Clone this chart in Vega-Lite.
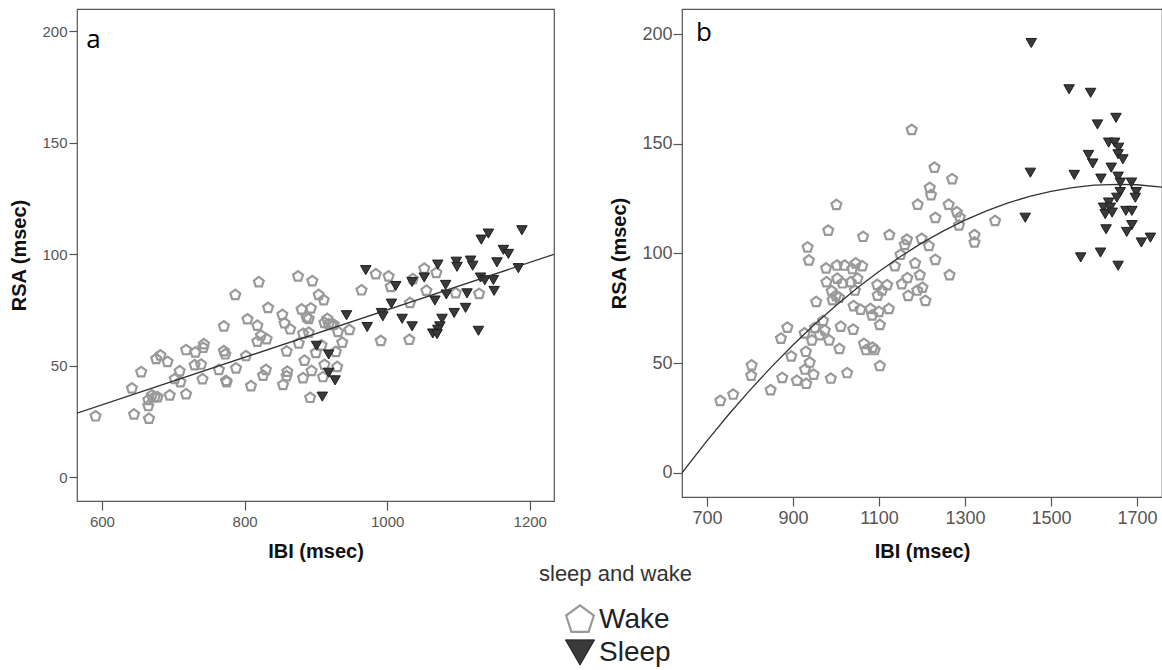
{
"$schema":"https://vega.github.io/schema/vega-lite/v6.json",
"padding":{"left":9,"top":8,"right":0,"bottom":0},
"spacing":54,
"config":{"view":{"stroke":"#555555","strokeWidth":1.2},"font":"Liberation Sans",
"axis":{"grid":false,"domain":false,"tickColor":"#555555","tickWidth":1.2,"labelColor":"#555555","labelFont":"Liberation Sans","titleFont":"Liberation Sans","titleFontWeight":"bold","titleFontSize":20,"titleColor":"#111111","format":"d"}},
"datasets":{
"a":[
{"IBI":591,"RSA":27.4,"state":"Wake"},{"IBI":642,"RSA":39.9,"state":"Wake"},{"IBI":645,"RSA":28.2,"state":"Wake"},{"IBI":655,"RSA":47.2,"state":"Wake"},{"IBI":665,"RSA":34.7,"state":"Wake"},{"IBI":665,"RSA":32,"state":"Wake"},{"IBI":666,"RSA":26.3,"state":"Wake"},{"IBI":670,"RSA":36.8,"state":"Wake"},{"IBI":674,"RSA":36,"state":"Wake"},{"IBI":676,"RSA":53.1,"state":"Wake"},{"IBI":678,"RSA":36,"state":"Wake"},{"IBI":682,"RSA":54.7,"state":"Wake"},{"IBI":692,"RSA":51.8,"state":"Wake"},{"IBI":695,"RSA":36.8,"state":"Wake"},{"IBI":702,"RSA":44.1,"state":"Wake"},{"IBI":709,"RSA":47.6,"state":"Wake"},{"IBI":710,"RSA":42.7,"state":"Wake"},{"IBI":718,"RSA":57.1,"state":"Wake"},{"IBI":718,"RSA":37.3,"state":"Wake"},{"IBI":731,"RSA":56,"state":"Wake"},{"IBI":730,"RSA":50.3,"state":"Wake"},{"IBI":739,"RSA":50.6,"state":"Wake"},{"IBI":742,"RSA":58.1,"state":"Wake"},{"IBI":743,"RSA":59.7,"state":"Wake"},{"IBI":741,"RSA":44,"state":"Wake"},{"IBI":764,"RSA":48.2,"state":"Wake"},{"IBI":771,"RSA":67.7,"state":"Wake"},{"IBI":771,"RSA":56.6,"state":"Wake"},{"IBI":773,"RSA":55.2,"state":"Wake"},{"IBI":774,"RSA":43.3,"state":"Wake"},{"IBI":775,"RSA":42.7,"state":"Wake"},{"IBI":787,"RSA":81.8,"state":"Wake"},{"IBI":788,"RSA":48.9,"state":"Wake"},{"IBI":802,"RSA":54.4,"state":"Wake"},{"IBI":804,"RSA":70.9,"state":"Wake"},{"IBI":809,"RSA":40.9,"state":"Wake"},{"IBI":818,"RSA":68,"state":"Wake"},{"IBI":818,"RSA":60.9,"state":"Wake"},{"IBI":820,"RSA":87.5,"state":"Wake"},{"IBI":823,"RSA":63.6,"state":"Wake"},{"IBI":826,"RSA":45.6,"state":"Wake"},{"IBI":830,"RSA":48.2,"state":"Wake"},{"IBI":831,"RSA":62,"state":"Wake"},{"IBI":833,"RSA":76,"state":"Wake"},{"IBI":853,"RSA":72.9,"state":"Wake"},{"IBI":854,"RSA":41.5,"state":"Wake"},{"IBI":856,"RSA":69.1,"state":"Wake"},{"IBI":859,"RSA":56.5,"state":"Wake"},{"IBI":859,"RSA":45.4,"state":"Wake"},{"IBI":860,"RSA":47.4,"state":"Wake"},{"IBI":864,"RSA":66.4,"state":"Wake"},{"IBI":875,"RSA":90.1,"state":"Wake"},{"IBI":876,"RSA":60.1,"state":"Wake"},{"IBI":880,"RSA":75.3,"state":"Wake"},{"IBI":882,"RSA":64.4,"state":"Wake"},{"IBI":882,"RSA":44.5,"state":"Wake"},{"IBI":884,"RSA":52.3,"state":"Wake"},{"IBI":887,"RSA":71.7,"state":"Wake"},{"IBI":890,"RSA":71.1,"state":"Wake"},{"IBI":890,"RSA":64.9,"state":"Wake"},{"IBI":892,"RSA":35.7,"state":"Wake"},{"IBI":893,"RSA":75.8,"state":"Wake"},{"IBI":894,"RSA":47.7,"state":"Wake"},{"IBI":895,"RSA":88,"state":"Wake"},{"IBI":900,"RSA":55.8,"state":"Wake"},{"IBI":904,"RSA":81.8,"state":"Wake"},{"IBI":908,"RSA":59.2,"state":"Wake"},{"IBI":911,"RSA":79.5,"state":"Wake"},{"IBI":910,"RSA":45,"state":"Wake"},{"IBI":912,"RSA":50.5,"state":"Wake"},{"IBI":912,"RSA":69.3,"state":"Wake"},{"IBI":916,"RSA":71.1,"state":"Wake"},{"IBI":918,"RSA":68.7,"state":"Wake"},{"IBI":922,"RSA":68.3,"state":"Wake"},{"IBI":925,"RSA":68.5,"state":"Wake"},{"IBI":928,"RSA":56.3,"state":"Wake"},{"IBI":930,"RSA":49.5,"state":"Wake"},{"IBI":931,"RSA":65.2,"state":"Wake"},{"IBI":937,"RSA":60.4,"state":"Wake"},{"IBI":947,"RSA":66.1,"state":"Wake"},{"IBI":964,"RSA":83.9,"state":"Wake"},{"IBI":984,"RSA":91.1,"state":"Wake"},{"IBI":1002,"RSA":90.1,"state":"Wake"},{"IBI":1005,"RSA":85.4,"state":"Wake"},{"IBI":991,"RSA":61.2,"state":"Wake"},{"IBI":1032,"RSA":78.2,"state":"Wake"},{"IBI":1036,"RSA":88.9,"state":"Wake"},{"IBI":1052,"RSA":93.6,"state":"Wake"},{"IBI":1055,"RSA":83.7,"state":"Wake"},{"IBI":1069,"RSA":91.7,"state":"Wake"},{"IBI":1096,"RSA":82.6,"state":"Wake"},{"IBI":1129,"RSA":82.3,"state":"Wake"},{"IBI":1031,"RSA":61.7,"state":"Wake"},
{"IBI":970,"RSA":92.9,"state":"Sleep"},{"IBI":1012,"RSA":85.8,"state":"Sleep"},{"IBI":1035,"RSA":87.6,"state":"Sleep"},{"IBI":1052,"RSA":89.6,"state":"Sleep"},{"IBI":1071,"RSA":95.4,"state":"Sleep"},{"IBI":1097,"RSA":96.7,"state":"Sleep"},{"IBI":1098,"RSA":94.4,"state":"Sleep"},{"IBI":1117,"RSA":97.2,"state":"Sleep"},{"IBI":1120,"RSA":94.9,"state":"Sleep"},{"IBI":1131,"RSA":89.6,"state":"Sleep"},{"IBI":1137,"RSA":88.4,"state":"Sleep"},{"IBI":1149,"RSA":88.5,"state":"Sleep"},{"IBI":1154,"RSA":96.4,"state":"Sleep"},{"IBI":1150,"RSA":83.6,"state":"Sleep"},{"IBI":1163,"RSA":102,"state":"Sleep"},{"IBI":1170,"RSA":100.2,"state":"Sleep"},{"IBI":1184,"RSA":93.8,"state":"Sleep"},{"IBI":1132,"RSA":106.6,"state":"Sleep"},{"IBI":1142,"RSA":109.3,"state":"Sleep"},{"IBI":1189,"RSA":110.8,"state":"Sleep"},{"IBI":1082,"RSA":86.3,"state":"Sleep"},{"IBI":1083,"RSA":82,"state":"Sleep"},{"IBI":1112,"RSA":82.5,"state":"Sleep"},{"IBI":1067,"RSA":79.3,"state":"Sleep"},{"IBI":1094,"RSA":73.7,"state":"Sleep"},{"IBI":1110,"RSA":76,"state":"Sleep"},{"IBI":1006,"RSA":77.9,"state":"Sleep"},{"IBI":992,"RSA":73.7,"state":"Sleep"},{"IBI":994,"RSA":72.2,"state":"Sleep"},{"IBI":1021,"RSA":71.1,"state":"Sleep"},{"IBI":1035,"RSA":67.7,"state":"Sleep"},{"IBI":1077,"RSA":71.1,"state":"Sleep"},{"IBI":1074,"RSA":67.7,"state":"Sleep"},{"IBI":1071,"RSA":66.2,"state":"Sleep"},{"IBI":1064,"RSA":64.5,"state":"Sleep"},{"IBI":1128,"RSA":65.7,"state":"Sleep"},{"IBI":943,"RSA":72.7,"state":"Sleep"},{"IBI":972,"RSA":67.4,"state":"Sleep"},{"IBI":901,"RSA":59,"state":"Sleep"},{"IBI":918,"RSA":55.1,"state":"Sleep"},{"IBI":918,"RSA":46.9,"state":"Sleep"},{"IBI":927,"RSA":43.5,"state":"Sleep"},{"IBI":909,"RSA":36.2,"state":"Sleep"},{"IBI":1070,"RSA":64.2,"state":"Sleep"}
],
"b":[
{"IBI":731,"RSA":32.8,"state":"Wake"},{"IBI":761,"RSA":35.7,"state":"Wake"},{"IBI":804,"RSA":49,"state":"Wake"},{"IBI":803,"RSA":44.3,"state":"Wake"},{"IBI":848,"RSA":37.7,"state":"Wake"},{"IBI":872,"RSA":61.2,"state":"Wake"},{"IBI":875,"RSA":43.3,"state":"Wake"},{"IBI":887,"RSA":66.2,"state":"Wake"},{"IBI":896,"RSA":53.1,"state":"Wake"},{"IBI":909,"RSA":42,"state":"Wake"},{"IBI":927,"RSA":63.6,"state":"Wake"},{"IBI":930,"RSA":55.2,"state":"Wake"},{"IBI":928,"RSA":47.1,"state":"Wake"},{"IBI":931,"RSA":40.6,"state":"Wake"},{"IBI":934,"RSA":102.8,"state":"Wake"},{"IBI":937,"RSA":96.8,"state":"Wake"},{"IBI":939,"RSA":50.3,"state":"Wake"},{"IBI":948,"RSA":44.8,"state":"Wake"},{"IBI":944,"RSA":60.4,"state":"Wake"},{"IBI":951,"RSA":66.1,"state":"Wake"},{"IBI":954,"RSA":77.9,"state":"Wake"},{"IBI":962,"RSA":62.8,"state":"Wake"},{"IBI":970,"RSA":69.3,"state":"Wake"},{"IBI":974,"RSA":64.9,"state":"Wake"},{"IBI":977,"RSA":93.2,"state":"Wake"},{"IBI":978,"RSA":86.9,"state":"Wake"},{"IBI":982,"RSA":110.4,"state":"Wake"},{"IBI":984,"RSA":60.4,"state":"Wake"},{"IBI":988,"RSA":43,"state":"Wake"},{"IBI":990,"RSA":82.8,"state":"Wake"},{"IBI":992,"RSA":78.7,"state":"Wake"},{"IBI":1001,"RSA":122.1,"state":"Wake"},{"IBI":1002,"RSA":94.5,"state":"Wake"},{"IBI":1003,"RSA":88.5,"state":"Wake"},{"IBI":1000,"RSA":80.7,"state":"Wake"},{"IBI":1007,"RSA":79.9,"state":"Wake"},{"IBI":1008,"RSA":56.5,"state":"Wake"},{"IBI":1011,"RSA":66.6,"state":"Wake"},{"IBI":1015,"RSA":86.4,"state":"Wake"},{"IBI":1020,"RSA":94.5,"state":"Wake"},{"IBI":1026,"RSA":45.5,"state":"Wake"},{"IBI":1034,"RSA":86.9,"state":"Wake"},{"IBI":1038,"RSA":92.9,"state":"Wake"},{"IBI":1041,"RSA":76,"state":"Wake"},{"IBI":1040,"RSA":65.3,"state":"Wake"},{"IBI":1044,"RSA":83.1,"state":"Wake"},{"IBI":1046,"RSA":95.5,"state":"Wake"},{"IBI":1050,"RSA":88.5,"state":"Wake"},{"IBI":1057,"RSA":74.4,"state":"Wake"},{"IBI":1061,"RSA":94.2,"state":"Wake"},{"IBI":1063,"RSA":107.6,"state":"Wake"},{"IBI":1065,"RSA":58.8,"state":"Wake"},{"IBI":1070,"RSA":56,"state":"Wake"},{"IBI":1080,"RSA":74.7,"state":"Wake"},{"IBI":1084,"RSA":71.8,"state":"Wake"},{"IBI":1085,"RSA":57.1,"state":"Wake"},{"IBI":1090,"RSA":56,"state":"Wake"},{"IBI":1096,"RSA":85.7,"state":"Wake"},{"IBI":1097,"RSA":80.8,"state":"Wake"},{"IBI":1100,"RSA":73.4,"state":"Wake"},{"IBI":1102,"RSA":48.7,"state":"Wake"},{"IBI":1102,"RSA":67.4,"state":"Wake"},{"IBI":1107,"RSA":83.1,"state":"Wake"},{"IBI":1119,"RSA":85.6,"state":"Wake"},{"IBI":1123,"RSA":74.7,"state":"Wake"},{"IBI":1124,"RSA":108.4,"state":"Wake"},{"IBI":1137,"RSA":94.2,"state":"Wake"},{"IBI":1153,"RSA":86,"state":"Wake"},{"IBI":1150,"RSA":99.4,"state":"Wake"},{"IBI":1160,"RSA":103.9,"state":"Wake"},{"IBI":1165,"RSA":106.3,"state":"Wake"},{"IBI":1166,"RSA":88.8,"state":"Wake"},{"IBI":1168,"RSA":80.7,"state":"Wake"},{"IBI":1176,"RSA":156.3,"state":"Wake"},{"IBI":1184,"RSA":95.5,"state":"Wake"},{"IBI":1189,"RSA":83.1,"state":"Wake"},{"IBI":1190,"RSA":122.2,"state":"Wake"},{"IBI":1195,"RSA":90.1,"state":"Wake"},{"IBI":1199,"RSA":106.7,"state":"Wake"},{"IBI":1201,"RSA":84.4,"state":"Wake"},{"IBI":1208,"RSA":78.4,"state":"Wake"},{"IBI":1216,"RSA":103.4,"state":"Wake"},{"IBI":1218,"RSA":129.9,"state":"Wake"},{"IBI":1221,"RSA":126.6,"state":"Wake"},{"IBI":1229,"RSA":139.1,"state":"Wake"},{"IBI":1231,"RSA":116.2,"state":"Wake"},{"IBI":1231,"RSA":97.1,"state":"Wake"},{"IBI":1262,"RSA":122.2,"state":"Wake"},{"IBI":1264,"RSA":90.1,"state":"Wake"},{"IBI":1270,"RSA":133.9,"state":"Wake"},{"IBI":1281,"RSA":118.8,"state":"Wake"},{"IBI":1288,"RSA":116.4,"state":"Wake"},{"IBI":1286,"RSA":112.8,"state":"Wake"},{"IBI":1322,"RSA":108.4,"state":"Wake"},{"IBI":1322,"RSA":105,"state":"Wake"},{"IBI":1370,"RSA":114.8,"state":"Wake"},
{"IBI":1454,"RSA":195.9,"state":"Sleep"},{"IBI":1542,"RSA":174.8,"state":"Sleep"},{"IBI":1592,"RSA":173.2,"state":"Sleep"},{"IBI":1608,"RSA":158.8,"state":"Sleep"},{"IBI":1651,"RSA":161.8,"state":"Sleep"},{"IBI":1452,"RSA":136.8,"state":"Sleep"},{"IBI":1554,"RSA":135.8,"state":"Sleep"},{"IBI":1587,"RSA":144.9,"state":"Sleep"},{"IBI":1597,"RSA":141,"state":"Sleep"},{"IBI":1616,"RSA":134.1,"state":"Sleep"},{"IBI":1640,"RSA":139.1,"state":"Sleep"},{"IBI":1634,"RSA":150.5,"state":"Sleep"},{"IBI":1648,"RSA":150.5,"state":"Sleep"},{"IBI":1657,"RSA":148.2,"state":"Sleep"},{"IBI":1656,"RSA":145.2,"state":"Sleep"},{"IBI":1667,"RSA":142.9,"state":"Sleep"},{"IBI":1656,"RSA":135,"state":"Sleep"},{"IBI":1661,"RSA":132.3,"state":"Sleep"},{"IBI":1687,"RSA":132.3,"state":"Sleep"},{"IBI":1698,"RSA":128,"state":"Sleep"},{"IBI":1696,"RSA":125.4,"state":"Sleep"},{"IBI":1661,"RSA":128,"state":"Sleep"},{"IBI":1653,"RSA":125.4,"state":"Sleep"},{"IBI":1634,"RSA":123.2,"state":"Sleep"},{"IBI":1622,"RSA":120.9,"state":"Sleep"},{"IBI":1638,"RSA":120.9,"state":"Sleep"},{"IBI":1626,"RSA":117.9,"state":"Sleep"},{"IBI":1642,"RSA":118.6,"state":"Sleep"},{"IBI":1674,"RSA":119.4,"state":"Sleep"},{"IBI":1688,"RSA":119.4,"state":"Sleep"},{"IBI":1688,"RSA":112.9,"state":"Sleep"},{"IBI":1628,"RSA":111,"state":"Sleep"},{"IBI":1676,"RSA":109.8,"state":"Sleep"},{"IBI":1710,"RSA":105,"state":"Sleep"},{"IBI":1731,"RSA":107.2,"state":"Sleep"},{"IBI":1440,"RSA":116.3,"state":"Sleep"},{"IBI":1569,"RSA":98.2,"state":"Sleep"},{"IBI":1615,"RSA":100.4,"state":"Sleep"},{"IBI":1656,"RSA":94.4,"state":"Sleep"}
],
"fitA":[{"IBI":565,"RSA":28.8},{"IBI":1234,"RSA":100}],
"fitB":[{"IBI":642,"RSA":0},{"IBI":700,"RSA":14.6},{"IBI":750,"RSA":26.5},{"IBI":800,"RSA":37.7},{"IBI":850,"RSA":48.3},{"IBI":900,"RSA":58.3},{"IBI":950,"RSA":67.6},{"IBI":1000,"RSA":76.3},{"IBI":1050,"RSA":84.4},{"IBI":1100,"RSA":91.8},{"IBI":1150,"RSA":98.6},{"IBI":1200,"RSA":104.8},{"IBI":1250,"RSA":110.3},{"IBI":1300,"RSA":115.2},{"IBI":1350,"RSA":119.4},{"IBI":1400,"RSA":123},{"IBI":1450,"RSA":126},{"IBI":1500,"RSA":128.3},{"IBI":1550,"RSA":130},{"IBI":1600,"RSA":131.1},{"IBI":1658,"RSA":131.5},{"IBI":1700,"RSA":131.3},{"IBI":1758,"RSA":130.2}]
},
"hconcat":[
{"width":477,"height":492,
"layer":[
{"data":{"name":"a"},"mark":{"type":"point","opacity":1},
"encoding":{
"x":{"field":"IBI","type":"quantitative","scale":{"domain":[565,1234],"nice":false,"zero":false},"axis":{"values":[600,800,1000,1200],"title":"IBI (msec)","labelFontSize":15,"tickSize":9,"labelPadding":4,"titlePadding":12}},
"y":{"field":"RSA","type":"quantitative","scale":{"domain":[-10.6,210],"nice":false,"zero":false},"axis":{"values":[0,50,100,150,200],"title":"RSA (msec)","labelFontSize":15,"tickSize":8,"labelPadding":2,"titlePadding":12}},
"shape":{"field":"state","type":"nominal","scale":{"domain":["Wake","Sleep"],"range":["M0,-1L0.951,-0.309L0.588,0.809L-0.588,0.809L-0.951,-0.309Z","triangle-down"]},
"legend":{"title":"sleep and wake","orient":"none","legendX":462,"legendY":555,"direction":"vertical","titleFontSize":22,"titleFontWeight":"normal","titleColor":"#333333","titleFont":"Liberation Sans","titlePadding":18,"labelFontSize":28,"labelColor":"#222222","labelFont":"Liberation Sans","symbolSize":850,"symbolOffset":25,"labelOffset":3,"rowPadding":-2,"titleAnchor":"start",
"encode":{"symbols":{"update":{"strokeWidth":{"value":3}}}}}},
"stroke":{"field":"state","type":"nominal","scale":{"domain":["Wake","Sleep"],"range":["#999999","#1e1e1e"]},"legend":{"title":"sleep and wake"}},
"fill":{"field":"state","type":"nominal","scale":{"domain":["Wake","Sleep"],"range":["transparent","#3a3a3a"]},"legend":null},
"strokeWidth":{"field":"state","type":"nominal","scale":{"domain":["Wake","Sleep"],"range":[2.2,1]},"legend":null},
"size":{"value":110}
}},
{"data":{"name":"fitA"},"mark":{"type":"line","color":"#333333","strokeWidth":1.3,"clip":true},
"encoding":{"x":{"field":"IBI","type":"quantitative"},"y":{"field":"RSA","type":"quantitative"}}},
{"data":{"values":[{"IBI":588,"RSA":196,"t":"a"}]},"mark":{"type":"text","font":"Open Sans","fontSize":26,"color":"#000000","align":"center","baseline":"middle"},
"encoding":{"x":{"field":"IBI","type":"quantitative"},"y":{"field":"RSA","type":"quantitative"},"text":{"field":"t"}}}
]},
{"width":480,"height":488,
"layer":[
{"data":{"name":"b"},"mark":{"type":"point","opacity":1},
"encoding":{
"x":{"field":"IBI","type":"quantitative","scale":{"domain":[642,1758],"nice":false,"zero":false},"axis":{"values":[700,900,1100,1300,1500,1700],"title":"IBI (msec)","labelFontSize":18,"tickSize":9,"labelPadding":3,"titlePadding":14}},
"y":{"field":"RSA","type":"quantitative","scale":{"domain":[-11,211.4],"nice":false,"zero":false},"axis":{"values":[0,50,100,150,200],"title":"RSA (msec)","labelFontSize":18,"tickSize":9,"labelPadding":1,"titlePadding":12}},
"shape":{"field":"state","type":"nominal","scale":{"domain":["Wake","Sleep"],"range":["M0,-1L0.951,-0.309L0.588,0.809L-0.588,0.809L-0.951,-0.309Z","triangle-down"]},"legend":{"title":"sleep and wake"}},
"stroke":{"field":"state","type":"nominal","scale":{"domain":["Wake","Sleep"],"range":["#999999","#1e1e1e"]},"legend":{"title":"sleep and wake"}},
"fill":{"field":"state","type":"nominal","scale":{"domain":["Wake","Sleep"],"range":["transparent","#3a3a3a"]},"legend":null},
"strokeWidth":{"field":"state","type":"nominal","scale":{"domain":["Wake","Sleep"],"range":[2.2,1]},"legend":null},
"size":{"value":110}
}},
{"data":{"name":"fitB"},"mark":{"type":"line","color":"#333333","strokeWidth":1.3,"clip":true},
"encoding":{"x":{"field":"IBI","type":"quantitative"},"y":{"field":"RSA","type":"quantitative"}}},
{"data":{"values":[{"IBI":693,"RSA":200.5,"t":"b"}]},"mark":{"type":"text","font":"Open Sans","fontSize":26,"color":"#000000","align":"center","baseline":"middle"},
"encoding":{"x":{"field":"IBI","type":"quantitative"},"y":{"field":"RSA","type":"quantitative"},"text":{"field":"t"}}}
]}
]
}
